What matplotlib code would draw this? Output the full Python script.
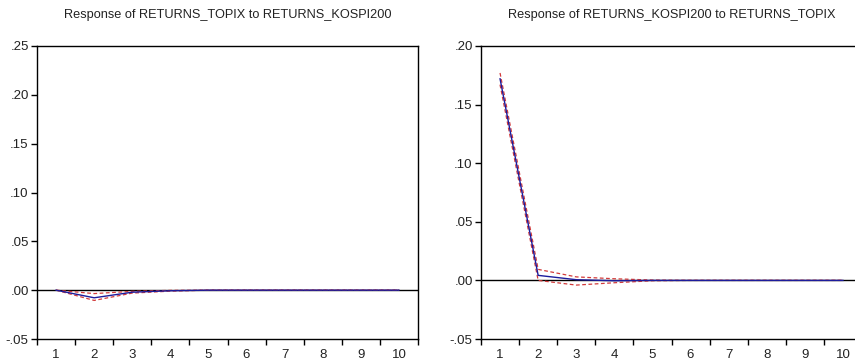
import matplotlib
matplotlib.use("Agg")
import matplotlib.pyplot as plt
import matplotlib.ticker as ticker
import numpy as np

periods = [1, 2, 3, 4, 5, 6, 7, 8, 9, 10]

# Response of RETURNS_TOPIX to RETURNS_KOSPI200
topix_resp = [0.0, -0.0078, -0.0021, -0.0006, 0.0, 0.0, 0.0, 0.0, 0.0, 0.0]
topix_upper = [0.0, -0.0035, -0.0012, -0.0002, 0.0, 0.0, 0.0, 0.0, 0.0, 0.0]
topix_lower = [0.0, -0.0105, -0.0030, -0.0010, 0.0, 0.0, 0.0, 0.0, 0.0, 0.0]

# Response of RETURNS_KOSPI200 to RETURNS_TOPIX
kospi_resp = [0.172, 0.0043, 0.0006, -0.0003, 0.0, 0.0, 0.0, 0.0, 0.0, 0.0]
kospi_upper = [0.177, 0.0094, 0.0030, 0.0014, 0.0003, 0.0, 0.0, 0.0, 0.0, 0.0]
kospi_lower = [0.167, 0.0000, -0.0040, -0.0020, -0.0003, 0.0, 0.0, 0.0, 0.0, 0.0]

titles = ["Response of RETURNS_TOPIX to RETURNS_KOSPI200",
          "Response of RETURNS_KOSPI200 to RETURNS_TOPIX"]
ylims = [(-0.05, 0.25), (-0.05, 0.20)]

plt.rcParams['font.family'] = ['Liberation Sans', 'DejaVu Sans']

fig = plt.figure(figsize=(8.55, 3.64), dpi=100)
ax1 = fig.add_axes([37/855, 25/364, 381/855, 293/364])
ax2 = fig.add_axes([481/855, 25/364, 381/855, 293/364])

def fmt(v, pos):
    s = "%.2f" % v
    if s.startswith("-0"):
        return "-" + s[2:]
    if s.startswith("0"):
        return s[1:]
    return s

blue = "#1c1c9c"
red = "#d23a3a"

data = [(topix_resp, topix_upper, topix_lower), (kospi_resp, kospi_upper, kospi_lower)]
for ax, (resp, up, lo), title, yl in zip([ax1, ax2], data, titles, ylims):
    ax.axhline(0, color="black", lw=1.0, zorder=1)
    ax.plot(periods, up, color=red, lw=0.9, ls=(0, (3, 2)), zorder=2)
    ax.plot(periods, lo, color=red, lw=0.9, ls=(0, (3, 2)), zorder=2)
    ax.plot(periods, resp, color=blue, lw=1.0, zorder=3)
    ax.set_xlim(0.5, 10.5)
    ax.set_ylim(*yl)
    ax.set_yticks(np.arange(yl[0], yl[1] + 0.001, 0.05))
    ax.yaxis.set_major_formatter(ticker.FuncFormatter(fmt))
    ax.set_xticks(np.arange(0.5, 11, 1))
    ax.set_xticklabels([])
    ax.set_xticks(periods, minor=True)
    ax.set_xticklabels([str(p) for p in periods], minor=True)
    ax.tick_params(axis="x", which="major", direction="out", length=4, width=1)
    ax.tick_params(axis="x", which="minor", length=0, pad=7, labelsize=9.5, labelcolor="#222222")
    ax.tick_params(axis="y", direction="out", length=4, width=1, labelsize=9.5, pad=2,
                   labelcolor="#222222")
    for sp in ax.spines.values():
        sp.set_linewidth(1.0)
    ax.set_title(title, fontsize=9.2, pad=20, color="#222222")

fig.savefig("out.png", dpi=100)
